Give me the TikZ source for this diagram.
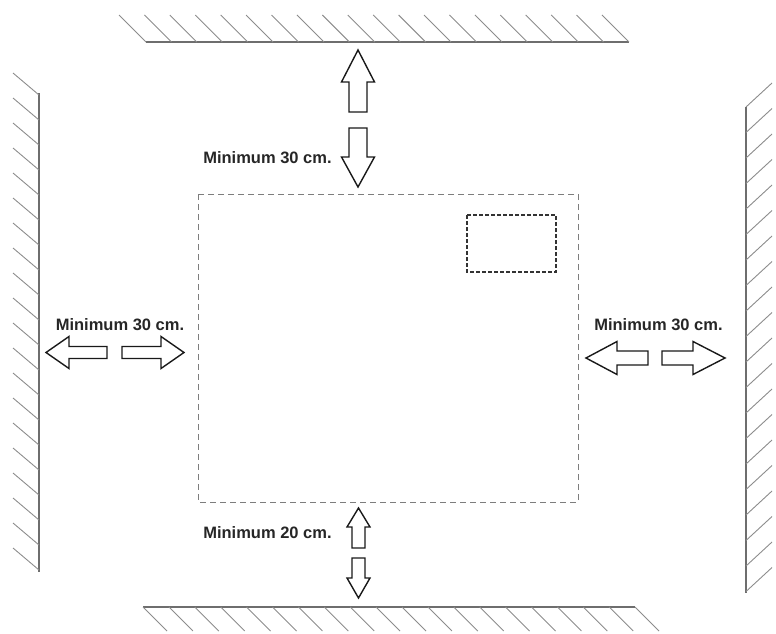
\documentclass[tikz,border=0pt]{standalone}
\usepackage{fontspec}
\newfontfamily\labelfont{Liberation Sans}
\usepackage{tikz}
\definecolor{wallgray}{RGB}{110,110,110}
\definecolor{hatchgray}{RGB}{140,140,140}
\definecolor{boxgray}{RGB}{125,125,125}

\begin{document}
\begin{tikzpicture}[x=1pt,y=-1pt,
    wall/.style={wallgray,line width=1.3pt},
    hatch/.style={hatchgray,line width=0.9pt},
    blockarrow/.style={draw=black!90,line width=1.4pt,line join=miter},
    minlabel/.style={inner sep=0pt,text=black!85,font={\labelfont\bfseries\fontsize{16.5}{19}\selectfont}}]
  \useasboundingbox (0,0) rectangle (776,634);
  % walls with hatching
  \draw[wall] (146,42) -- (629,42);
  \foreach \i in {0,...,19} \draw[hatch] (146+25.42*\i,42) -- ++(-27,-27);
  \draw[wall] (39,93) -- (39,572);
  \foreach \i in {0,...,19} \draw[hatch] (39,95+25*\i) -- ++(-26,-22);
  \draw[wall] (746,107) -- (746,593);
  \foreach \i in {0,...,19} \draw[hatch] (746,107+25.5*\i) -- ++(26,-24);
  \draw[wall] (143,607) -- (635,607);
  \foreach \i in {0,...,19} \draw[hatch] (143+25.9*\i,607) -- ++(24,24);
  % unit outline and front panel
  \draw[boxgray,dash pattern=on 6pt off 4pt,line width=0.9pt] (198,194) rectangle (578,502);
  \draw[black!80,dash pattern=on 4pt off 2pt,line width=1.3pt] (467,215) rectangle (556,272);
  % top gap
  \draw[blockarrow] (349,112) -- (349,82) -- (341.5,82) -- (358,50) -- (374.5,82) -- (367,82) -- (367,112) -- cycle;
  \draw[blockarrow] (349,128) -- (349,157) -- (341.5,157) -- (358,187) -- (374.5,157) -- (367,157) -- (367,128) -- cycle;
  \node[minlabel] (topgap) at (267.5,158) {Minimum 30 cm.};
  % left gap
  \draw[blockarrow] (107,346.5) -- (69,346.5) -- (69,336.5) -- (46,352.5) -- (69,368.5) -- (69,358.5) -- (107,358.5) -- cycle;
  \draw[blockarrow] (122,346.5) -- (161,346.5) -- (161,336.5) -- (184,352.5) -- (161,368.5) -- (161,358.5) -- (122,358.5) -- cycle;
  \node[minlabel] (leftgap) at (120,325) {Minimum 30 cm.};
  % right gap
  \draw[blockarrow] (648,351) -- (617,351) -- (617,341.5) -- (586,358) -- (617,374.5) -- (617,365) -- (648,365) -- cycle;
  \draw[blockarrow] (662,351) -- (693,351) -- (693,341.5) -- (725,358) -- (693,374.5) -- (693,365) -- (662,365) -- cycle;
  \node[minlabel] (rightgap) at (658.5,325) {Minimum 30 cm.};
  % bottom gap
  \draw[blockarrow] (352,548) -- (352,527) -- (347,527) -- (358.5,508) -- (370,527) -- (365,527) -- (365,548) -- cycle;
  \draw[blockarrow] (352,558) -- (352,578) -- (347,578) -- (358.5,598) -- (370,578) -- (365,578) -- (365,558) -- cycle;
  \node[minlabel] (bottomgap) at (267.5,533) {Minimum 20 cm.};
\end{tikzpicture}
\end{document}
